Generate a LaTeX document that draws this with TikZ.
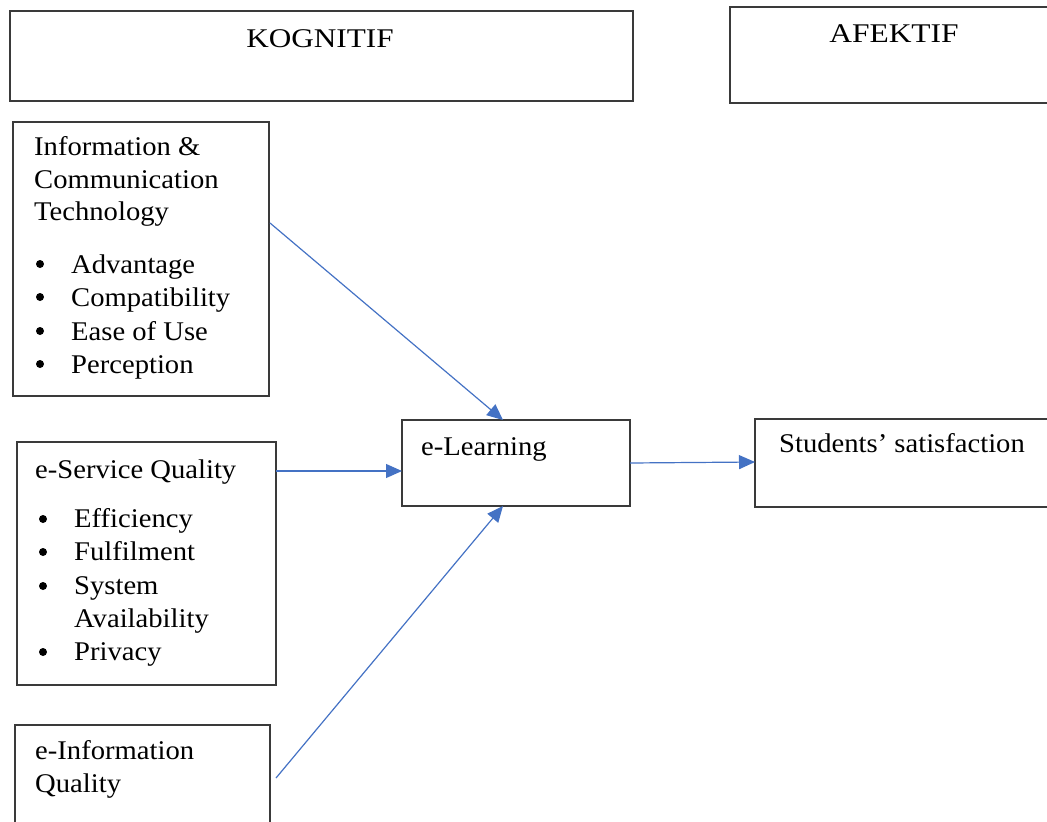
\documentclass[tikz,border=0pt]{standalone}
\usepackage{fontspec}
\setmainfont{Liberation Serif}[FakeStretch=1.06]
\usetikzlibrary{arrows.meta,calc}
\definecolor{boxline}{HTML}{3A3A3A}
\definecolor{arrblue}{HTML}{4472C4}
\begin{document}
\begin{tikzpicture}[x=1pt,y=-1pt,
  box/.style={draw=boxline,line width=1.4pt,rectangle,inner sep=0pt,outer sep=0pt,anchor=north west},
  lbl/.style={inner sep=0pt,anchor=base west,font=\fontsize{27}{33}\selectfont},
  clbl/.style={inner sep=0pt,anchor=base,font=\fontsize{27}{33}\selectfont},
  bul/.style={circle,fill=black,inner sep=0pt,minimum size=8pt},
  arr/.style={draw=arrblue,line width=1.2pt,-{Triangle[length=16pt,width=14pt]}}]
\useasboundingbox (0,0) rectangle (1047,822);
\clip (0,0) rectangle (1047,822);
% boxes
\node[box,minimum width=623pt,minimum height=90pt] (kog) at (10,11) {};
\node[box,minimum width=340pt,minimum height=96pt] (afek) at (730,7) {};
\node[box,minimum width=256pt,minimum height=274pt] (ict) at (13,122) {};
\node[box,minimum width=259pt,minimum height=243pt] (esq) at (17,442) {};
\node[box,minimum width=255pt,minimum height=120pt] (einfo) at (15,725) {};
\node[box,minimum width=228pt,minimum height=86pt] (elearn) at (402,420) {};
\node[box,minimum width=320pt,minimum height=88pt] (sat) at (755,419) {};
% headings
\node[clbl] (tkog) at (320,47) {\scalebox{1.09}[1]{KOGNITIF}};
\node[clbl] (tafek) at (894,42) {\scalebox{1.1}[1]{AFEKTIF}};
% ICT
\node[lbl] (t1) at (34,155) {Information \&};
\node[lbl] (t2) at (34,188) {Communication};
\node[lbl] (t3) at (34,220) {Technology};
\node[bul] (b1) at (40,264) {};
\node[lbl] (i1) at (71,273) {Advantage};
\node[bul] (b2) at (40,297) {};
\node[lbl] (i2) at (71,306) {Compatibility};
\node[bul] (b3) at (40,331) {};
\node[lbl] (i3) at (71,340) {Ease of Use};
\node[bul] (b4) at (40,364) {};
\node[lbl] (i4) at (71,373) {Perception};
% e-Service
\node[lbl] (s0) at (35,478) {e-Service Quality};
\node[bul] (sb1) at (43,519) {};
\node[lbl] (s1) at (74,527) {Efficiency};
\node[bul] (sb2) at (43,552) {};
\node[lbl] (s2) at (74,560) {Fulfilment};
\node[bul] (sb3) at (43,586) {};
\node[lbl] (s3) at (74,594) {System};
\node[lbl] (s3b) at (74,627) {Availability};
\node[bul] (sb4) at (43,652) {};
\node[lbl] (s4) at (74,660) {Privacy};
% e-Information
\node[lbl] (e1) at (35,759) {e-Information};
\node[lbl] (e2) at (35,792) {Quality};
% e-Learning and satisfaction
\node[lbl] (tl) at (421,455) {e-Learning};
\node[lbl] (ts) at (779,452) {Students’ satisfaction};
% arrows
\draw[arr] ($(ict.north east)+(1,101)$) -- ($(elearn.north west)+(101,0)$);
\draw[arr] ($(esq.north east)+(0,29)$) -- ($(elearn.north west)+(0,51)$);
\draw[arr] ($(einfo.north east)+(6,53)$) -- ($(elearn.south west)+(101,0)$);
\draw[arr] ($(elearn.north east)+(0,43)$) -- ($(sat.north west)+(0,43)$);
\end{tikzpicture}
\end{document}
